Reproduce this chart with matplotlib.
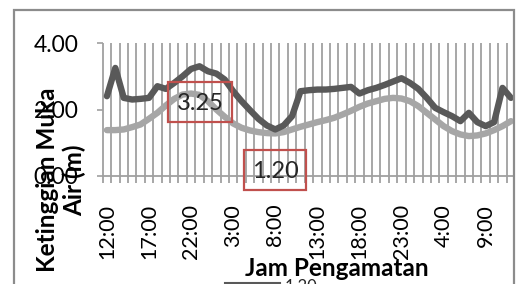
import numpy as np
import matplotlib
matplotlib.use('Agg')
import matplotlib.pyplot as plt
from matplotlib.patches import Rectangle
from matplotlib.lines import Line2D

# water level readings, hourly from 12:00 (two stations / series)
level_dark = [2.40, 3.25, 2.35, 2.30, 2.32, 2.35, 2.70, 2.62, 2.80, 3.00,
              3.22, 3.30, 3.15, 3.08, 2.90, 2.55, 2.25, 1.98, 1.72, 1.52,
              1.40, 1.52, 1.80, 2.55, 2.58, 2.60, 2.60, 2.62, 2.65, 2.68,
              2.48, 2.58, 2.65, 2.74, 2.84, 2.94, 2.80, 2.62, 2.35, 2.05,
              1.92, 1.80, 1.65, 1.90, 1.62, 1.50, 1.62, 2.65, 2.35]
level_light = [1.38, 1.38, 1.40, 1.47, 1.55, 1.72, 1.90, 2.12, 2.32, 2.45,
               2.48, 2.44, 2.25, 2.00, 1.78, 1.58, 1.45, 1.37, 1.32, 1.29,
               1.28, 1.32, 1.40, 1.48, 1.55, 1.62, 1.68, 1.75, 1.85, 1.96,
               2.08, 2.18, 2.25, 2.32, 2.35, 2.33, 2.25, 2.10, 1.90, 1.70,
               1.50, 1.35, 1.25, 1.20, 1.22, 1.28, 1.38, 1.50, 1.65]
tick_labels = ['12:00', '17:00', '22:00', '3:00', '8:00',
               '13:00', '18:00', '23:00', '4:00', '9:00']
y_ticks = [0, 2, 4]
y_tick_labels = ['0.00', '2.00', '4.00']
note_max = '3.25'
note_min = '1.20'

plt.rcParams['font.family'] = ['Lato', 'DejaVu Sans']

W, H = 517, 284
fig = plt.figure(figsize=(W / 100, H / 100), dpi=100)

def fx(px):
    return px / W

def fy(py):
    return 1 - py / H

step = 8.417  # pixels per category
left_px, right_px, top_px, bot_px = 102.7, 513, 43, 176
ax = fig.add_axes([fx(left_px), fy(bot_px), (right_px - left_px) / W, (bot_px - top_px) / H])

x = np.arange(len(level_dark))
ax.plot(x, level_light, color='#A6A6A6', lw=4.6, solid_joinstyle='round',
        solid_capstyle='round', zorder=3)
ax.plot(x, level_dark, color='#595959', lw=4.6, solid_joinstyle='round',
        solid_capstyle='round', zorder=4)

ax.set_xlim(-0.5, -0.5 + (right_px - left_px) / step)
ax.set_ylim(0, 4)

# vertical gridlines at category boundaries, poking below the axis
ax.vlines(np.arange(len(level_dark)) - 0.5, -0.21, 4, colors='#A0A0A0',
          lw=1.3, clip_on=False, zorder=1)

for s in ['top', 'right', 'left']:
    ax.spines[s].set_visible(False)
ax.spines['bottom'].set_color('#A0A0A0')
ax.spines['bottom'].set_linewidth(1.3)

ax.set_yticks(y_ticks)
ax.set_yticklabels(y_tick_labels, fontsize=16.5)
ax.tick_params(axis='y', length=4.5, width=1.2, color='#A0A0A0', pad=13)

ax.set_xticks(x[::5][:len(tick_labels)])
ax.set_xticklabels(tick_labels, rotation=90, fontsize=15.5)
ax.tick_params(axis='x', length=0, pad=20)

# axis titles
fig.text(fx(61), fy(180), 'Ketinggian Muka\nAir (m)', rotation=90,
         ha='center', va='center', multialignment='center',
         fontsize=17.5, fontweight='bold', linespacing=1.2)
fig.text(fx(337), fy(269), 'Jam Pengamatan', ha='center', va='center',
         fontsize=17.5, fontweight='bold')

# red callout boxes
for (x0, y0, x1, y1), txt in [((168, 82, 232, 122), note_max),
                              ((244, 150, 306, 190), note_min)]:
    fig.patches.append(Rectangle((fx(x0), fy(y1)), fx(x1) - fx(x0), fy(y0) - fy(y1),
                                 transform=fig.transFigure, fill=False,
                                 edgecolor='#C0504D', lw=1.6, zorder=10))
    fig.text(fx((x0 + x1) / 2), fy((y0 + y1) / 2 + 1), txt, ha='center', va='center',
             fontsize=17, color='#262626', zorder=11)

# legend fragment cut at the bottom
fig.lines.append(Line2D([fx(225), fx(280)], [fy(283), fy(283)],
                        transform=fig.transFigure, color='#595959', lw=1.5))
fig.text(fx(285), fy(279), '1.30', ha='left', va='top', fontsize=12, color='#262626')

# chart border
fig.patches.append(Rectangle((fx(14), fy(300)), fx(514) - fx(14), fy(10) - fy(300),
                             transform=fig.transFigure, fill=False,
                             edgecolor='#8C8C8C', lw=1.6, zorder=12))

fig.savefig('out.png', dpi=100)
